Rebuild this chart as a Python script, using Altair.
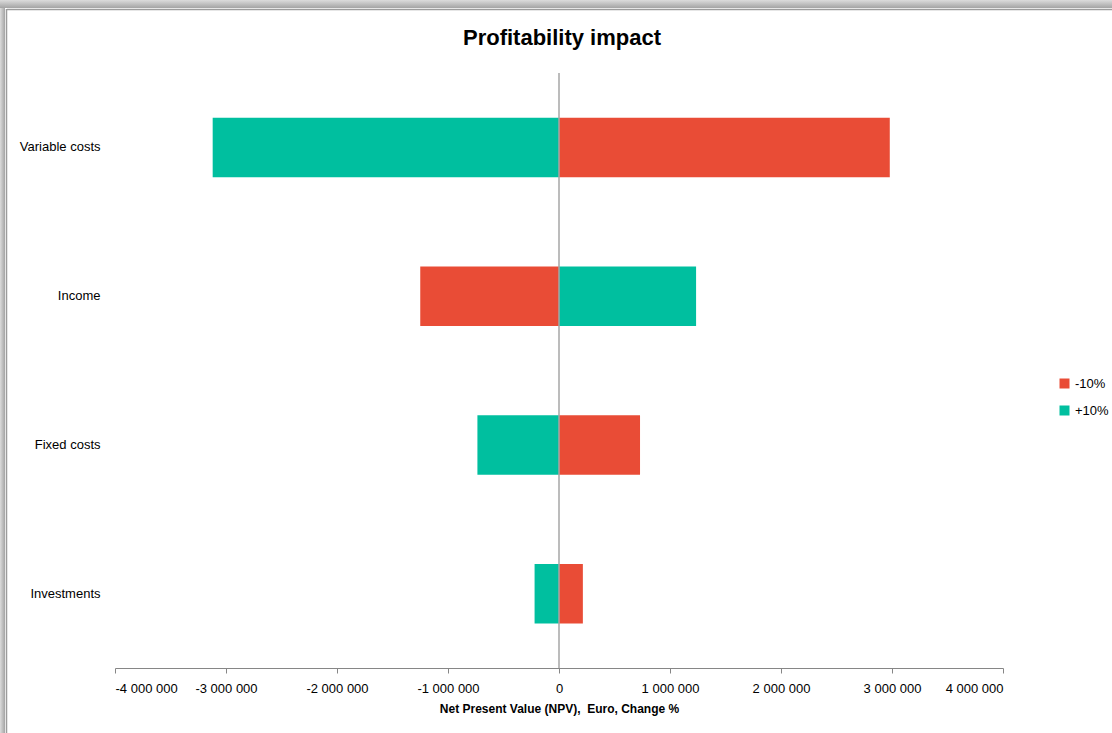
import altair as alt
import pandas as pd

categories = ["Variable costs", "Income", "Fixed costs", "Investments"]
minus10 = [2980000, -1250000, 730000, 215000]
plus10 = [-3120000, 1235000, -735000, -220000]
series = ["-10%", "+10%"]
ticks = [-4000000, -3000000, -2000000, -1000000, 0, 1000000, 2000000, 3000000, 4000000]
title_text = "Profitability impact"

rows = []
for c, a, b in zip(categories, minus10, plus10):
    rows.append({"category": c, "scenario": series[0], "value": a})
    rows.append({"category": c, "scenario": series[1], "value": b})
df = pd.DataFrame(rows)

FONT = "Liberation Sans"

bars = alt.Chart(df).mark_bar().encode(
    y=alt.Y("category:N", sort=categories, title=None,
            scale=alt.Scale(paddingInner=0.6, paddingOuter=0.3),
            axis=alt.Axis(ticks=False, domain=False, labelPadding=15,
                          labelFontSize=13, labelColor="#000000", labelFont=FONT)),
    x=alt.X("value:Q", title="Net Present Value (NPV),\u00a0 Euro, Change %",
            scale=alt.Scale(domain=[-4000000, 4000000], nice=False),
            axis=alt.Axis(values=ticks, format=",d", grid=False,
                          domainColor="#868686", tickColor="#868686", tickSize=5,
                          labelFontSize=13, labelColor="#000000", labelFont=FONT,
                          labelPadding=9, titleFont=FONT, titleFontSize=12,
                          titleFontWeight="bold", titleColor="#000000", titlePadding=8)),
    color=alt.Color("scenario:N", sort=series,
                    scale=alt.Scale(domain=series, range=["#E94C36", "#00BF9F"]),
                    legend=alt.Legend(title=None, orient="none", legendX=943, legendY=304,
                                      symbolType="square", symbolSize=100, symbolStrokeWidth=0,
                                      labelFontSize=13, labelFont=FONT, labelColor="#000000",
                                      rowPadding=13)),
)

zero = alt.Chart(pd.DataFrame({"v": [0]})).mark_rule(color="#A6A6A6", strokeWidth=1.5).encode(
    x="v:Q"
)

one = pd.DataFrame({"k": [0]})
top_shadow = alt.Chart(one).mark_rect(
    color=alt.LinearGradient(gradient="linear", x1=0, x2=0, y1=0, y2=1,
                             stops=[alt.GradientStop(offset=0, color="#dcdcdc"),
                                    alt.GradientStop(offset=1, color="#a4a4a4")])
).encode(x=alt.value(-115), x2=alt.value(997), y=alt.value(-73), y2=alt.value(-65))
left_shadow = alt.Chart(one).mark_rect(
    color=alt.LinearGradient(gradient="linear", x1=0, x2=1, y1=0, y2=0,
                             stops=[alt.GradientStop(offset=0, color="#dcdcdc"),
                                    alt.GradientStop(offset=1, color="#a4a4a4")])
).encode(x=alt.value(-115), x2=alt.value(-110), y=alt.value(-65), y2=alt.value(660))
top_line = alt.Chart(one).mark_rule(color="#9c9c9c", strokeWidth=1.5).encode(
    x=alt.value(-108), x2=alt.value(997), y=alt.value(-63.5))
left_line = alt.Chart(one).mark_rule(color="#9c9c9c", strokeWidth=1.5).encode(
    x=alt.value(-108.5), y=alt.value(-64), y2=alt.value(660))

title = alt.Chart(pd.DataFrame({"t": [title_text]})).mark_text(
    font=FONT, fontSize=22, fontWeight="bold", color="#000000",
    align="center", baseline="middle"
).encode(text="t:N", x=alt.value(447), y=alt.value(-35))

chart = alt.layer(top_shadow, left_shadow, top_line, left_line, bars, zero, title).properties(
    width=888, height=595,
    autosize=alt.AutoSizeParams(type="none"),
    padding={"left": 115, "top": 73, "right": 109, "bottom": 65},
).configure(
    locale={"number": {"decimal": ",", "thousands": " ", "grouping": [3],
                       "currency": ["", ""], "minus": "-"}}
).configure_view(stroke=None)

chart.save("out.html", embed_options={"renderer": "svg", "actions": False})
